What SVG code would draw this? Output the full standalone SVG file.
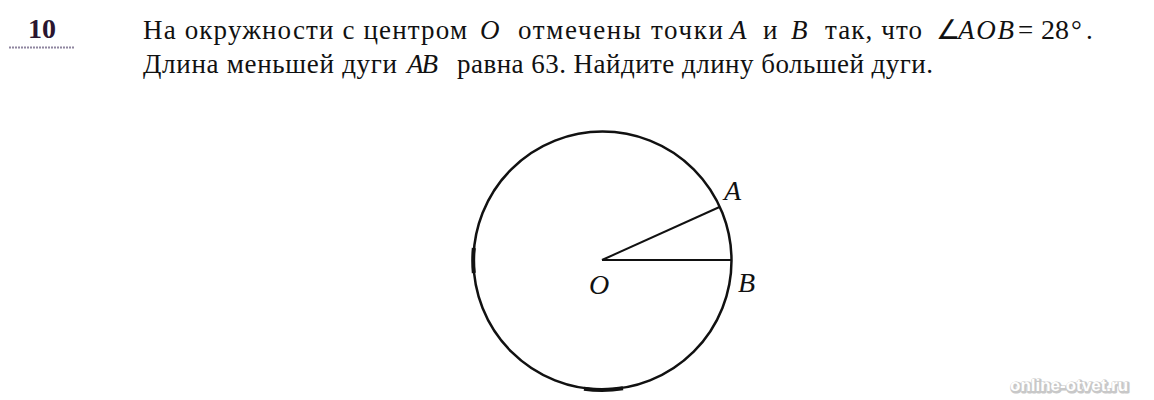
<svg xmlns="http://www.w3.org/2000/svg" width="1154" height="400" viewBox="0 0 1154 400">
<rect width="1154" height="400" fill="#fff"/>
<g id="number">
<text x="28" y="38" font-family="Liberation Serif" font-weight="bold" font-size="28" fill="#2a1530">10</text>
<line x1="9" y1="47.5" x2="75" y2="47.5" stroke="#8f86a0" stroke-width="2" stroke-dasharray="2 1"/>
</g>
<g id="problem" font-family="Liberation Serif" font-size="27" fill="#111">
<text x="143" y="39" textLength="324" lengthAdjust="spacing">На окружности с центром</text>
<text x="480" y="39" font-style="italic">O</text>
<text x="518" y="39" textLength="205" lengthAdjust="spacing">отмечены точки</text>
<text x="730" y="39" font-style="italic">A</text>
<text x="763" y="39">и</text>
<text x="791" y="39" font-style="italic">B</text>
<text x="825" y="39" textLength="97" lengthAdjust="spacing">так, что</text>
<text x="936" y="39">∠</text>
<text x="958" y="39" font-style="italic" textLength="56" lengthAdjust="spacing">AOB</text>
<text x="1018" y="39">=</text>
<text x="1041" y="39" font-size="28">28</text>
<text x="1071" y="39">°</text>
<text x="1086" y="39">.</text>
<text x="143" y="73" textLength="254" lengthAdjust="spacing">Длина меньшей дуги</text>
<text x="407" y="73" font-style="italic" letter-spacing="-2">AB</text>
<text x="457" y="73" textLength="476" lengthAdjust="spacing">равна 63. Найдите длину большей дуги.</text>
</g>
<g id="circle">
<circle cx="602.5" cy="260.5" r="129" fill="none" stroke="#111" stroke-width="2.5"/>
<path d="M473.8 248 A129 129 0 0 0 473.8 273" fill="none" stroke="#111" stroke-width="4"/>
<path d="M584 388.7 A129 129 0 0 0 623 388.2" fill="none" stroke="#111" stroke-width="4"/>
</g>
<g id="connectors" stroke="#111" stroke-width="2">
<line x1="602" y1="260" x2="719.5" y2="207"/>
<line x1="602" y1="260" x2="731" y2="260"/>
</g>
<g id="labels" font-family="Liberation Serif" font-size="28" font-style="italic" fill="#111">
<text x="724" y="200">A</text>
<text x="738" y="292">B</text>
<text x="589" y="294">O</text>
</g>
<g id="watermark" font-family="Liberation Sans" font-weight="bold" font-size="17">
<text x="1011" y="392" fill="#c8c8c8" stroke="#c8c8c8" stroke-width="3" stroke-linejoin="round">online-otvet.ru</text>
<text x="1010" y="391" fill="#fff">online-otvet.ru</text>
</g>
</svg>
